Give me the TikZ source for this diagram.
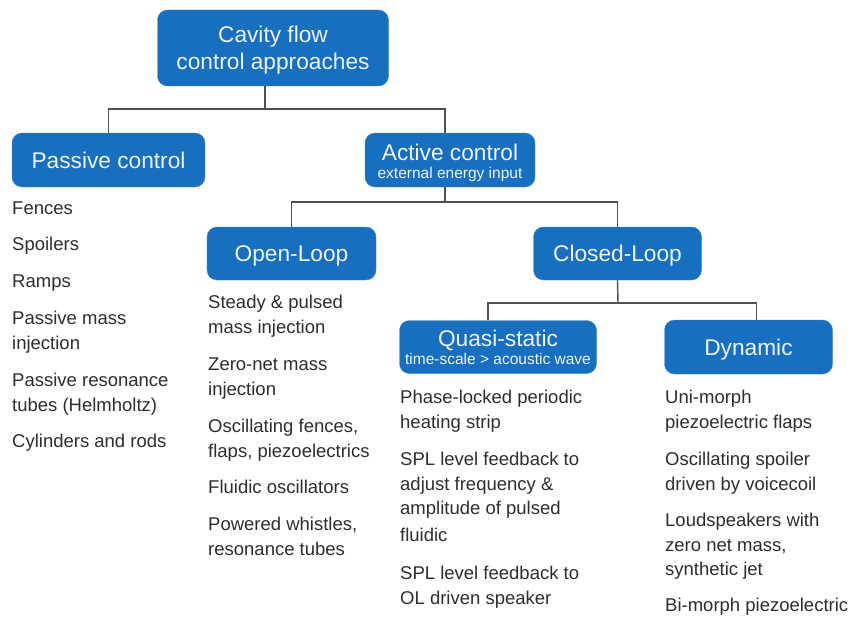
\documentclass[tikz,border=0pt]{standalone}
\usepackage{fontspec}
\setmainfont{Liberation Sans}
\definecolor{boxblue}{RGB}{24,111,192}
\definecolor{itemgray}{RGB}{45,45,45}
\definecolor{linegray}{RGB}{80,80,80}
\newcommand\subfont{\fontsize{15.5}{18}\selectfont}
\begin{document}
\begin{tikzpicture}[x=1pt,y=-1pt,
		catbox/.style={fill=boxblue, draw=boxblue!85!white, rounded corners=10pt, text=white!92!boxblue, align=center, inner sep=0pt, font=\fontsize{22.7}{27}\selectfont},
		onebox/.style={catbox, text height=16.5pt, text depth=0pt},
		itemtext/.style={anchor=base west, align=left, inner sep=0pt, text=itemgray, font=\fontsize{18.5}{24.7}\selectfont},
		link/.style={draw=linegray, line width=1.4pt}
		]
		\useasboundingbox (0,0) rectangle (855,618);
		
		\node[catbox, minimum width=231, minimum height=76] (cavity) at (273,48) {\rule{0pt}{20pt}Cavity flow\\control approaches};
		\node[onebox, minimum width=193, minimum height=54] (passive) at (108.5,160) {Passive control};
		\node[catbox, minimum width=170, minimum height=54] (active) at (450,160) {\rule{0pt}{22pt}Active control\\[-9pt]{\subfont external energy input}};
		\node[onebox, minimum width=169, minimum height=53] (open) at (291.5,253.5) {Open-Loop};
		\node[onebox, minimum width=168, minimum height=53] (closed) at (617.5,253.5) {Closed-Loop};
		\node[catbox, minimum width=197, minimum height=53] (quasi) at (498,347) {Quasi-static\\[-9pt]{\subfont time-scale > acoustic wave}};
		\node[onebox, minimum width=168, minimum height=54] (dynamic) at (748.5,347) {Dynamic};
		
		\coordinate (f1) at (265,109);
		\coordinate (f2) at (445,202);
		\coordinate (f3) at (618,303);
		\draw[link] (cavity.south -| f1) -- (f1);
		\draw[link] (f1) -| (passive.north);
		\draw[link] (f1) -| ([xshift=-5pt]active.north);
		\draw[link] ([xshift=-5pt]active.south) -- (f2);
		\draw[link] (f2) -| (open.north);
		\draw[link] (f2) -| (closed.north);
		\draw[link] (closed.south) -- (f3);
		\draw[link] (f3) -| ([xshift=-10pt]quasi.north);
		\draw[link] (f3) -| ([xshift=8pt]dynamic.north);
		
		\node[itemtext] (p1) at (12,214.5) {Fences};
		\node[itemtext] (p2) at (12,250.5) {Spoilers};
		\node[itemtext] (p3) at (12,287.5) {Ramps};
		\node[itemtext] (p4) at (12,349.2) {Passive mass\\injection};
		\node[itemtext] (p5) at (12,411.2) {Passive resonance\\tubes (Helmholtz)};
		\node[itemtext] (p6) at (12,447.5) {Cylinders and rods};
		
		\node[itemtext] (o1) at (208,333.2) {Steady \& pulsed\\mass injection};
		\node[itemtext] (o2) at (208,395.2) {Zero-net mass\\injection};
		\node[itemtext] (o3) at (208,457.2) {Oscillating fences,\\flaps, piezoelectrics};
		\node[itemtext] (o4) at (208,493.5) {Fluidic oscillators};
		\node[itemtext] (o5) at (208,555.2) {Powered whistles,\\resonance tubes};
		
		\node[itemtext] (q1) at (400,428.2) {Phase-locked periodic\\heating strip};
		\node[itemtext] (q2) at (400,541.6) {SPL level feedback to\\adjust frequency \&\\amplitude of pulsed\\[2pt]fluidic};
		\node[itemtext] (q3) at (400,604.2) {SPL level feedback to\\OL driven speaker};
		
		\node[itemtext] (d1) at (665,428.2) {Uni-morph\\piezoelectric flaps};
		\node[itemtext] (d2) at (665,490.2) {Oscillating spoiler\\driven by voicecoil};
		\node[itemtext] (d3) at (665,575.9) {Loudspeakers with\\zero net mass,\\synthetic jet};
		\node[itemtext] (d4) at (665,611.5) {Bi-morph piezoelectric};
		\end{tikzpicture}
\end{document}
